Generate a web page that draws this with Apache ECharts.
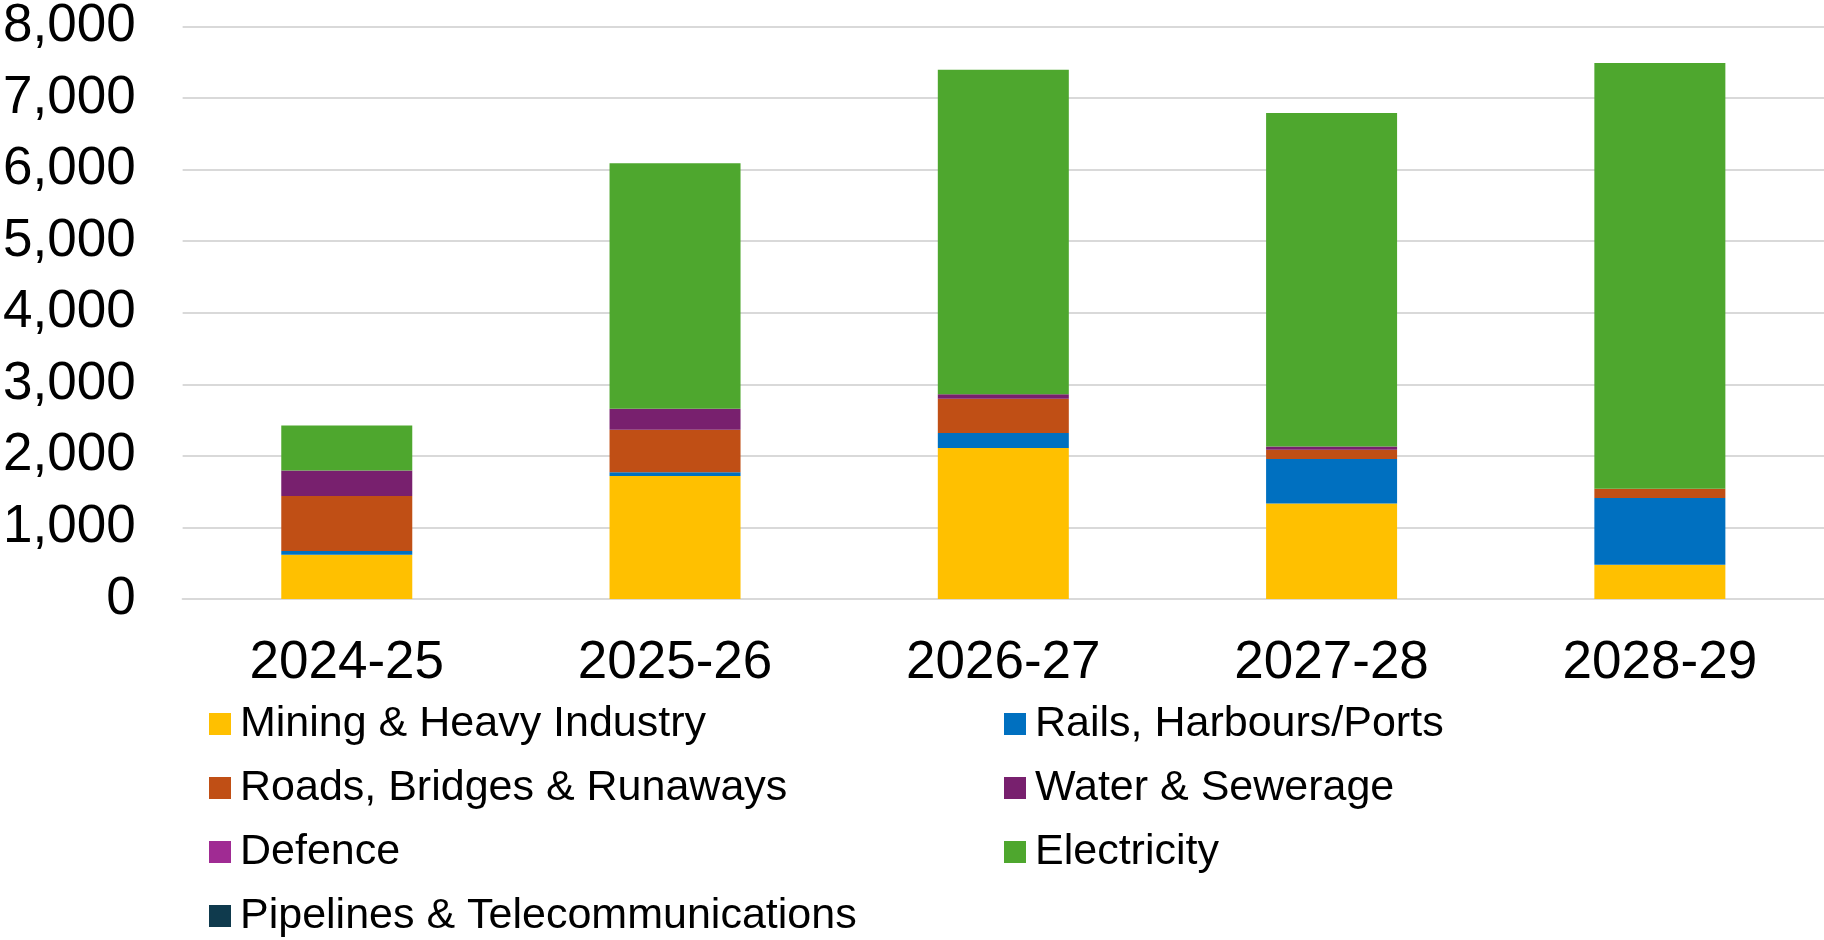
<!DOCTYPE html>
<html>
<head>
<meta charset="utf-8">
<title>Infrastructure investment by sector</title>
<script src="https://cdn.jsdelivr.net/npm/echarts@6/dist/echarts.min.js"></script>
<style>
  html, body { margin: 0; padding: 0; background: #ffffff; }
  #chart { width: 1824px; height: 940px; }
</style>
</head>
<body>
<div id="chart"></div>
<script>
// Financial years on the category axis
const years = ['2024-25', '2025-26', '2026-27', '2027-28', '2028-29'];

// Value by sector, stacked bottom to top
const mining      = [620, 1720, 2110, 1335, 480];
const rails       = [50, 50, 210, 620, 930];
const roads       = [770, 595, 480, 130, 130];
const water       = [355, 295, 60, 47, 0];
const defence     = [0, 0, 0, 0, 0];
const electricity = [630, 3430, 4535, 4660, 5950];
const pipelines   = [0, 0, 0, 0, 0];

const sectorNames = [
  'Mining & Heavy Industry',
  'Rails, Harbours/Ports',
  'Roads, Bridges & Runaways',
  'Water & Sewerage',
  'Defence',
  'Electricity',
  'Pipelines & Telecommunications'
];
const sectorValues = [mining, rails, roads, water, defence, electricity, pipelines];
const sectorColors = ['#FFC000', '#0070C0', '#C04F15', '#78206E', '#A02B93', '#4EA72E', '#0F3A4D'];

const FONT = '"Liberation Sans", Arial, sans-serif';

// Two fixed legend columns, read row by row
const legendCommon = {
  orient: 'vertical',
  top: 702,
  height: 238,
  padding: 0,
  icon: 'rect',
  itemWidth: 22,
  itemHeight: 22,
  itemGap: 20,
  selectedMode: false,
  textStyle: {
    fontFamily: FONT,
    fontSize: 43,
    lineHeight: 44,
    color: '#000000',
    padding: [0, 0, 0, 4]
  }
};

const chart = echarts.init(document.getElementById('chart'), null, { renderer: 'canvas' });

chart.setOption({
  animation: false,
  backgroundColor: '#ffffff',
  grid: { left: 182, right: 0, top: 23, bottom: 341, containLabel: false },
  legend: [
    Object.assign({}, legendCommon, {
      left: 209,
      data: [sectorNames[0], sectorNames[2], sectorNames[4], sectorNames[6]]
    }),
    Object.assign({}, legendCommon, {
      left: 1004,
      data: [sectorNames[1], sectorNames[3], sectorNames[5]]
    })
  ],
  xAxis: {
    type: 'category',
    data: years,
    axisLine: { show: true, lineStyle: { color: '#D9D9D9', width: 2 } },
    axisTick: { show: false },
    axisLabel: {
      fontFamily: FONT,
      fontSize: 53,
      color: '#000000',
      margin: 38
    }
  },
  yAxis: {
    type: 'value',
    min: 0,
    max: 8000,
    interval: 1000,
    axisLine: { show: false },
    axisTick: { show: false },
    splitLine: { lineStyle: { color: '#D9D9D9', width: 2 } },
    axisLabel: {
      fontFamily: FONT,
      fontSize: 53,
      color: '#000000',
      margin: 47,
      formatter: v => v.toLocaleString('en-US')
    }
  },
  series: sectorNames.map((name, i) => ({
    name: name,
    type: 'bar',
    stack: 'total',
    barWidth: 131,
    data: sectorValues[i],
    itemStyle: { color: sectorColors[i] }
  }))
});
</script>
</body>
</html>
